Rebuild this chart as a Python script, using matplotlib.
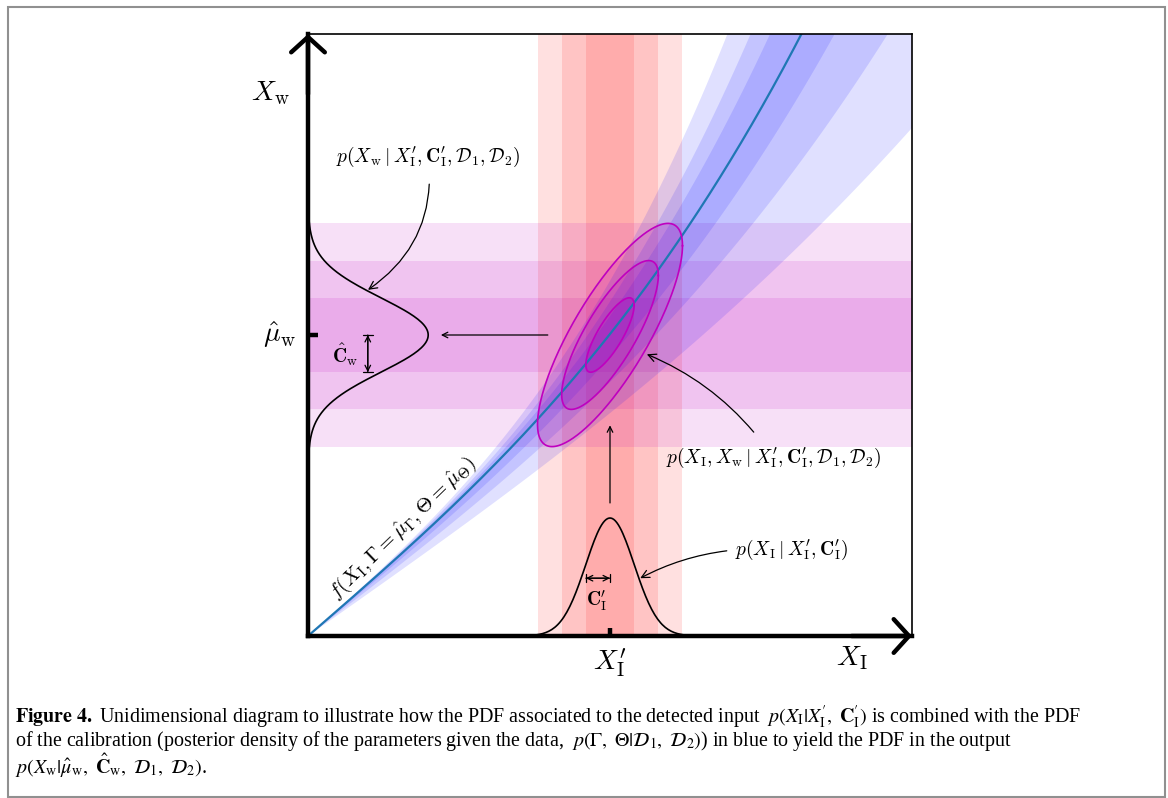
import numpy as np
import matplotlib.pyplot as plt
from matplotlib.patches import Rectangle

plt.rcParams['mathtext.fontset'] = 'cm'

# input measurement X_I' and its uncertainty (axes units)
x_in_mean = 0.5
x_in_sd = 0.040
# output estimate mu_w and its uncertainty
y_out_mean = 0.5
y_out_sd = 0.0618
corr = 0.8
sigma_levels = [1, 2, 3]

# calibration curve f(x) = a*x + b*x**3 and its credible bands
curve_coef = (0.871, 0.529)
band_lower = [(0.82, 0.43), (0.77, 0.295), (0.706, 0.138)]
band_upper = [(0.88, 0.73), (0.89, 0.884), (0.90, 1.12)]

# peak heights of the two drawn pdfs
pdf_in_height = 0.196
pdf_out_height = 0.199


def cal(x, coef):
    return coef[0] * x + coef[1] * x ** 3


def main():
    fig = plt.figure(figsize=(11.68, 7.98), dpi=100)
    ax = fig.add_axes([308 / 1168, 162 / 798, 604 / 1168, 602 / 798])
    ax.set_xlim(0, 1)
    ax.set_ylim(0, 1)
    ax.set_xticks([])
    ax.set_yticks([])

    xs = np.linspace(0, 1, 400)

    # red bands of the input, purple bands of the output
    for k in sigma_levels:
        ax.axvspan(x_in_mean - k * x_in_sd, x_in_mean + k * x_in_sd,
                   color='r', alpha=0.12, lw=0)
        ax.axhspan(y_out_mean - k * y_out_sd, y_out_mean + k * y_out_sd,
                   color='m', alpha=0.12, lw=0)

    # calibration bands
    for lo, hi in zip(band_lower, band_upper):
        ax.fill_between(xs, cal(xs, lo), cal(xs, hi), color='b', alpha=0.12, lw=0)
    ax.plot(xs, cal(xs, curve_coef), color='C0', lw=1.6)

    # joint pdf ellipses
    t = np.linspace(0, 2 * np.pi, 300)
    for k in sigma_levels:
        ex = x_in_mean + k * x_in_sd * np.cos(t)
        ey = y_out_mean + k * y_out_sd * (corr * np.cos(t) + np.sqrt(1 - corr ** 2) * np.sin(t))
        ax.fill(ex, ey, color='m', alpha=0.12, lw=0)
        ax.plot(ex, ey, color='m', lw=1.2)

    # input pdf along the x axis
    g_in = pdf_in_height * np.exp(-0.5 * ((xs - x_in_mean) / x_in_sd) ** 2)
    ax.plot(xs, g_in, color='k', lw=1.2)
    # output pdf along the y axis
    g_out = pdf_out_height * np.exp(-0.5 * ((xs - y_out_mean) / y_out_sd) ** 2)
    ax.plot(g_out, xs, color='k', lw=1.2)

    # spines and axis arrows
    for s in ['top', 'right']:
        ax.spines[s].set_linewidth(1.2)
    for s in ['left', 'bottom']:
        ax.spines[s].set_linewidth(3.2)
    ax.annotate('', xy=(1.0, 0), xytext=(0.9, 0), xycoords='axes fraction',
                arrowprops=dict(arrowstyle='->,head_length=0.5,head_width=0.55', lw=3.2,
                                mutation_scale=22, color='k', shrinkA=0, shrinkB=0),
                annotation_clip=False)
    ax.annotate('', xy=(0, 1.0), xytext=(0, 0.9), xycoords='axes fraction',
                arrowprops=dict(arrowstyle='->,head_length=0.5,head_width=0.55', lw=3.2,
                                mutation_scale=22, color='k', shrinkA=0, shrinkB=0),
                annotation_clip=False)
    ax.plot([0, 0.017], [y_out_mean, y_out_mean], color='k', lw=3.2, clip_on=False,
            solid_capstyle='butt')
    ax.plot([x_in_mean, x_in_mean], [0, 0.014], color='k', lw=3.2, clip_on=False,
            solid_capstyle='butt')

    # axis labels
    ax.text(-0.063, 0.902, r'$X_\mathrm{w}$', fontsize=20, ha='center', va='center')
    ax.text(-0.046, y_out_mean, r'$\hat{\mu}_\mathrm{w}$', fontsize=20, ha='center', va='center')
    ax.text(x_in_mean, -0.045, r'$X_\mathrm{I}^\prime$', fontsize=20, ha='center', va='center')
    ax.text(0.901, -0.037, r'$X_\mathrm{I}$', fontsize=20, ha='center', va='center')

    arr = dict(arrowstyle='->', lw=0.9, color='k', shrinkA=0, shrinkB=0)
    # flow arrows
    ax.annotate('', xy=(0.220, y_out_mean), xytext=(0.397, y_out_mean), arrowprops=arr)
    ax.annotate('', xy=(x_in_mean, 0.350), xytext=(x_in_mean, 0.221), arrowprops=arr)

    # uncertainty markers
    cw_x = 0.099
    ax.annotate('', xy=(cw_x, y_out_mean - y_out_sd), xytext=(cw_x, y_out_mean),
                arrowprops=dict(arrowstyle='<->', lw=0.9, color='k', shrinkA=0, shrinkB=0))
    ax.annotate('', xy=(cw_x, y_out_mean - y_out_sd), xytext=(cw_x, y_out_mean),
                arrowprops=dict(arrowstyle='|-|,widthA=0.35,widthB=0.35', lw=0.9, color='k',
                                shrinkA=0, shrinkB=0))
    ax.text(0.061, 0.467, r'$\hat{\mathbf{C}}_\mathrm{w}$', fontsize=14, ha='center', va='center')
    ci_y = 0.096
    ax.annotate('', xy=(x_in_mean, ci_y), xytext=(x_in_mean - x_in_sd, ci_y),
                arrowprops=dict(arrowstyle='<->', lw=0.9, color='k', shrinkA=0, shrinkB=0))
    ax.annotate('', xy=(x_in_mean, ci_y), xytext=(x_in_mean - x_in_sd, ci_y),
                arrowprops=dict(arrowstyle='|-|,widthA=0.3,widthB=0.3', lw=0.9, color='k',
                                shrinkA=0, shrinkB=0))
    ax.text(0.478, 0.058, r'$\mathbf{C}_\mathrm{I}^\prime$', fontsize=14, ha='center', va='center')

    # labelled pdfs
    ax.annotate(r'$p(X_\mathrm{w}\mid X_\mathrm{I}^\prime, \mathbf{C}_\mathrm{I}^\prime, \mathcal{D}_1, \mathcal{D}_2)$',
                xy=(0.0993, 0.575), xytext=(0.199, 0.796), fontsize=14, ha='center', va='center',
                arrowprops=dict(arrowstyle='->', lw=0.9, color='k', shrinkA=9, shrinkB=0,
                                connectionstyle='arc3,rad=-0.3'))
    ax.annotate(r'$p(X_\mathrm{I}, X_\mathrm{w}\mid X_\mathrm{I}^\prime, \mathbf{C}_\mathrm{I}^\prime, \mathcal{D}_1, \mathcal{D}_2)$',
                xy=(0.561, 0.468), xytext=(0.770, 0.296), fontsize=14, ha='center', va='center',
                arrowprops=dict(arrowstyle='->', lw=0.9, color='k', shrinkA=10, shrinkB=0,
                                connectionstyle='arc3,rad=0.15'))
    ax.annotate(r'$p(X_\mathrm{I}\mid X_\mathrm{I}^\prime, \mathbf{C}_\mathrm{I}^\prime)$',
                xy=(0.550, 0.096), xytext=(0.801, 0.143), fontsize=14, ha='center', va='center',
                arrowprops=dict(arrowstyle='->', lw=0.9, color='k', shrinkA=4, shrinkB=0,
                                connectionstyle='arc3,rad=0.1', relpos=(0, 0.5)))

    ax.text(0.157, 0.178, r'$f(X_\mathrm{I}, \Gamma = \hat{\mu}_\Gamma, \Theta = \hat{\mu}_\Theta)$',
            fontsize=15, rotation=44, rotation_mode='anchor', ha='center', va='center')

    # caption
    cap = dict(fontsize=14.4, family='Liberation Serif', va='center', math_fontfamily='stix')
    fig.text(15 / 1168, 1 - 717 / 798,
             r'$\mathbf{Figure\ 4.}$ Unidimensional diagram to illustrate how the PDF associated to the detected input  '
             r'$p(X_\mathrm{I}|X_\mathrm{I}^\prime,\ \mathbf{C}_\mathrm{I}^\prime)$ is combined with the PDF', **cap)
    fig.text(15 / 1168, 1 - 741 / 798,
             r'of the calibration (posterior density of the parameters given the data,  '
             r'$p(\Gamma,\ \Theta|\mathcal{D}_1,\ \mathcal{D}_2)$) in blue to yield the PDF in the output', **cap)
    fig.text(15 / 1168, 1 - 765 / 798,
             r'$p(X_\mathrm{w}|\hat{\mu}_\mathrm{w},\ \hat{\mathbf{C}}_\mathrm{w},\ \mathcal{D}_1,\ \mathcal{D}_2)$.', **cap)

    # page frame
    fig.patches.append(Rectangle((8 / 1168, 1 / 798), 1157 / 1168, 790 / 798,
                                 transform=fig.transFigure, fill=False,
                                 edgecolor='#909090', lw=1.5))

    fig.savefig('out.png', dpi=100)


if __name__ == '__main__':
    main()
